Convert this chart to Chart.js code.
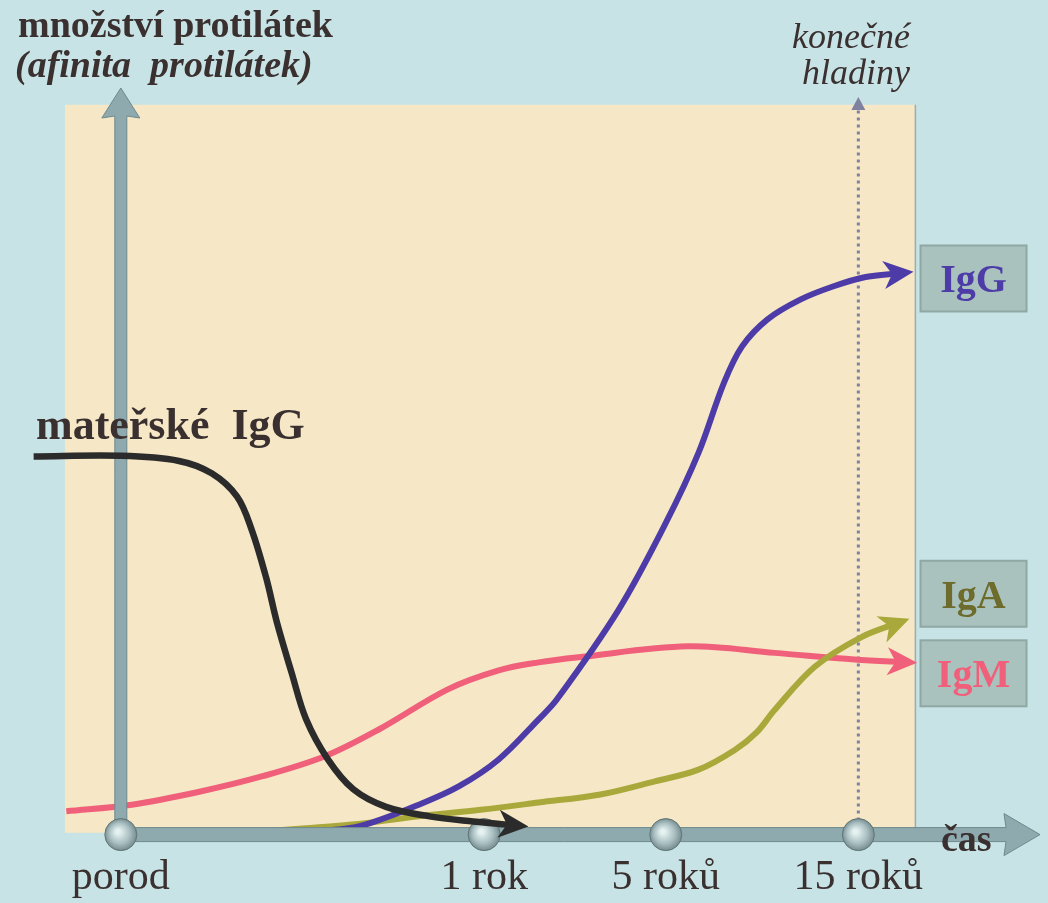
<!DOCTYPE html>
<html><head><meta charset="utf-8">
<script src="https://cdn.jsdelivr.net/npm/chart.js@4.4.1/dist/chart.umd.min.js"></script>
<style>html,body{margin:0;padding:0;background:#c7e3e5;}#wrap{width:1048px;height:903px;position:relative}</style>
</head><body><div id="wrap"><canvas id="c" width="1048" height="903"></canvas></div>
<script>
// ---- axis ticks ----
const tickValues = [0, 10, 15, 20.3];
const tickLabels = ['porod', '1 rok', '5 roků', '15 roků'];

// ---- series (x in axis units, y = relative amount) ----
const maternalX = [-2.4, 0, 1.6, 2.5, 3.2, 3.6, 4.0, 4.3, 4.7, 5.1, 5.7, 6.4, 7.3, 8.5, 9.7, 11.0];
const maternalY = [51.8, 51.9, 51.2, 49.5, 46.3, 41.8, 35.2, 29.0, 22.2, 15.8, 10.3, 6.2, 3.8, 2.5, 1.8, 1.2];

const igmX = [-1.5, 0.3, 2.1, 3.9, 5.6, 7.1, 9.0, 10.4, 11.5, 12.6, 15.6, 18.0, 20.2, 21.7];
const igmY = [3.2, 4.1, 5.8, 8.0, 10.7, 14.4, 19.9, 22.5, 23.6, 24.3, 25.8, 24.9, 24.0, 23.6];

const iggX = [5.4, 6.6, 8.2, 9.3, 10.4, 11.5, 12.0, 13.7, 15.0, 15.9, 16.6, 17.1, 17.8, 18.7, 19.6, 20.5, 21.6];
const iggY = [0.4, 1.2, 4.1, 6.6, 10.3, 15.8, 18.5, 30.8, 42.7, 52.3, 61.9, 66.9, 70.6, 73.3, 75.1, 76.4, 77.0];

const igaX = [3.8, 4.9, 6.6, 8.2, 9.9, 11.5, 13.2, 14.7, 15.9, 16.9, 17.5, 18.0, 19.1, 20.4, 21.5];
const igaY = [0.4, 0.8, 1.5, 2.5, 3.4, 4.4, 5.5, 7.3, 8.9, 11.6, 14.0, 17.1, 23.0, 27.1, 29.2];

// ---- labels ----
const seriesNames = ['mateřské  IgG', 'IgG', 'IgA', 'IgM'];
const yTitle1 = 'množství protilátek';
const yTitle2 = '(afinita  protilátek)';
const finalTitle = ['konečné', 'hladiny'];
const xTitle = 'čas';

// ---- styling ----
const COLORS = {black:'#2b2b2b', blue:'#4d3ba8', olive:'#a9a83a', pink:'#f0607a'};
const AXIS = '#8eaaae', AXIS_EDGE = '#6f8a8e';
const BEIGE = '#f6e8c6';
const SERIF = '"Liberation Serif", "DejaVu Serif", serif';

const pts = (xs, ys) => xs.map((x, i) => ({x, y: ys[i]}));

const deco = {
  id: 'deco',
  beforeDraw(chart) {
    const c = chart.ctx;
    c.save(); c.fillStyle = '#c7e3e5'; c.fillRect(0, 0, chart.width, chart.height); c.restore();
  },
  beforeDatasetsDraw(chart) {
    const c = chart.ctx, xs = chart.scales.x, ys = chart.scales.y, a = chart.chartArea;
    c.save();
    const l = xs.getPixelForValue(-1.54), r = xs.getPixelForValue(21.87);
    const t = ys.getPixelForValue(100), b = ys.getPixelForValue(0.25);
    c.fillStyle = BEIGE; c.fillRect(l, t, r - l, b - t);
    c.strokeStyle = '#9aaeae'; c.lineWidth = 1.5;
    c.beginPath(); c.moveTo(r, t); c.lineTo(r, b); c.stroke();
    const dx = xs.getPixelForValue(tickValues[3]);
    const y0 = ys.getPixelForValue(0);
    c.strokeStyle = '#8080a0'; c.lineWidth = 3; c.setLineDash([3, 4]);
    c.beginPath(); c.moveTo(dx, y0); c.lineTo(dx, a.top + 20); c.stroke();
    c.setLineDash([]);
    c.fillStyle = '#8080a0';
    c.beginPath(); c.moveTo(dx, a.top + 9); c.lineTo(dx - 7, a.top + 22); c.lineTo(dx + 7, a.top + 22); c.closePath(); c.fill();
    const boxes = [
      {txt: seriesNames[1], col: COLORS.blue, y: 76.2},
      {txt: seriesNames[2], col: '#6e6c2c', y: 33.0},
      {txt: seriesNames[3], col: COLORS.pink, y: 22.1}
    ];
    boxes.forEach(bx => {
      const cx = xs.getPixelForValue(23.47), cy = ys.getPixelForValue(bx.y);
      c.fillStyle = '#a9c2be'; c.fillRect(cx - 53, cy - 33, 106, 66);
      c.strokeStyle = '#90a8a4'; c.lineWidth = 2; c.strokeRect(cx - 53, cy - 33, 106, 66);
      c.fillStyle = bx.col; c.font = 'bold 40px ' + SERIF;
      c.textAlign = 'center'; c.textBaseline = 'alphabetic';
      c.fillText(bx.txt, cx, cy + 14);
    });
    c.restore();
  },
  beforeDatasetDraw(chart, args) {
    if (args.index !== 0) return;
    const c = chart.ctx, xs = chart.scales.x, ys = chart.scales.y, a = chart.chartArea;
    const ox = xs.getPixelForValue(0), oy = ys.getPixelForValue(0);
    c.save();
    c.fillStyle = AXIS; c.strokeStyle = AXIS_EDGE; c.lineWidth = 1;
    c.beginPath();
    c.moveTo(ox - 6, oy); c.lineTo(ox - 6, a.top + 28); c.lineTo(ox - 19, a.top + 30);
    c.lineTo(ox, a.top); c.lineTo(ox + 19, a.top + 30); c.lineTo(ox + 6, a.top + 28); c.lineTo(ox + 6, oy);
    c.closePath(); c.fill(); c.stroke();
    c.beginPath();
    c.moveTo(ox, oy - 7); c.lineTo(a.right - 34, oy - 7); c.lineTo(a.right - 36, oy - 21);
    c.lineTo(a.right, oy); c.lineTo(a.right - 36, oy + 21); c.lineTo(a.right - 34, oy + 7); c.lineTo(ox, oy + 7);
    c.closePath(); c.fill(); c.stroke();
    tickValues.forEach(v => {
      const bx = xs.getPixelForValue(v);
      const g = c.createRadialGradient(bx - 3, oy - 3, 2, bx, oy, 17);
      g.addColorStop(0, '#e6f2f2'); g.addColorStop(0.55, '#a9bfc1'); g.addColorStop(1, '#6f8587');
      c.fillStyle = g;
      c.beginPath(); c.arc(bx, oy, 16, 0, Math.PI * 2); c.fill();
      c.strokeStyle = '#5f7577'; c.lineWidth = 1; c.stroke();
    });
    c.restore();
  },
  afterDatasetDraw(chart, args) {
    const meta = args.meta, ds = chart.data.datasets[args.index];
    const n = meta.data.length, p = meta.data[n - 1];
    let px = p.cp1x, py = p.cp1y;
    if (px === undefined || (Math.abs(px - p.x) < 0.5 && Math.abs(py - p.y) < 0.5)) { px = meta.data[n - 2].x; py = meta.data[n - 2].y; }
    let ux = p.x - px, uy = p.y - py; const len = Math.hypot(ux, uy) || 1; ux /= len; uy /= len;
    const L = 30, W = 14, ext = 8;
    const tx = p.x + ux * ext, ty = p.y + uy * ext;
    const bx = tx - ux * L, by = ty - uy * L;
    const c = chart.ctx;
    c.save(); c.fillStyle = ds.borderColor;
    c.beginPath(); c.moveTo(tx, ty);
    c.lineTo(bx - uy * W, by + ux * W);
    c.lineTo(tx - ux * L * 0.72, ty - uy * L * 0.72);
    c.lineTo(bx + uy * W, by - ux * W);
    c.closePath(); c.fill(); c.restore();
  },
  afterDraw(chart) {
    const c = chart.ctx;
    c.save(); c.fillStyle = '#3a3030'; c.textBaseline = 'alphabetic';
    c.textAlign = 'left';
    c.font = 'bold 38px ' + SERIF; c.fillText(yTitle1, 18, 37);
    c.font = 'italic bold 38px ' + SERIF; c.fillText(yTitle2, 15, 77);
    c.font = 'bold 44px ' + SERIF; c.fillText(seriesNames[0], 36, 439);
    c.font = 'bold 38px ' + SERIF; c.fillText(xTitle, 941, 851);
    c.textAlign = 'right'; c.font = 'italic 36px ' + SERIF;
    c.fillText(finalTitle[0], 910, 48); c.fillText(finalTitle[1], 910, 84);
    c.restore();
  }
};

new Chart(document.getElementById('c'), {
  type: 'line',
  data: {
    datasets: [
      {label: seriesNames[0], data: pts(maternalX, maternalY), borderColor: COLORS.black, borderWidth: 6.5},
      {label: seriesNames[1], data: pts(iggX, iggY), borderColor: COLORS.blue, borderWidth: 6},
      {label: seriesNames[2], data: pts(igaX, igaY), borderColor: COLORS.olive, borderWidth: 6},
      {label: seriesNames[3], data: pts(igmX, igmY), borderColor: COLORS.pink, borderWidth: 6}
    ].map(d => Object.assign(d, {pointRadius: 0, fill: false, tension: 0.35, clip: false, borderCapStyle: 'butt'}))
  },
  options: {
    responsive: false, devicePixelRatio: 1, animation: false,
    layout: {padding: {left: 30, right: 8, top: 88, bottom: -18}},
    plugins: {legend: {display: false}, tooltip: {enabled: false}, title: {display: false}},
    events: [],
    scales: {
      x: {
        type: 'linear', min: -2.5, max: 25.3,
        afterBuildTicks: s => { s.ticks = tickValues.map(v => ({value: v})); },
        grid: {display: false, drawTicks: false}, border: {display: false},
        ticks: {autoSkip: false, maxRotation: 0, minRotation: 0, padding: 18,
          color: '#3a3030', font: {family: SERIF, size: 42},
          callback: v => tickLabels[tickValues.indexOf(v)]}
      },
      y: {type: 'linear', display: false, min: 0, max: 102.3}
    }
  },
  plugins: [deco]
});
</script></body></html>
